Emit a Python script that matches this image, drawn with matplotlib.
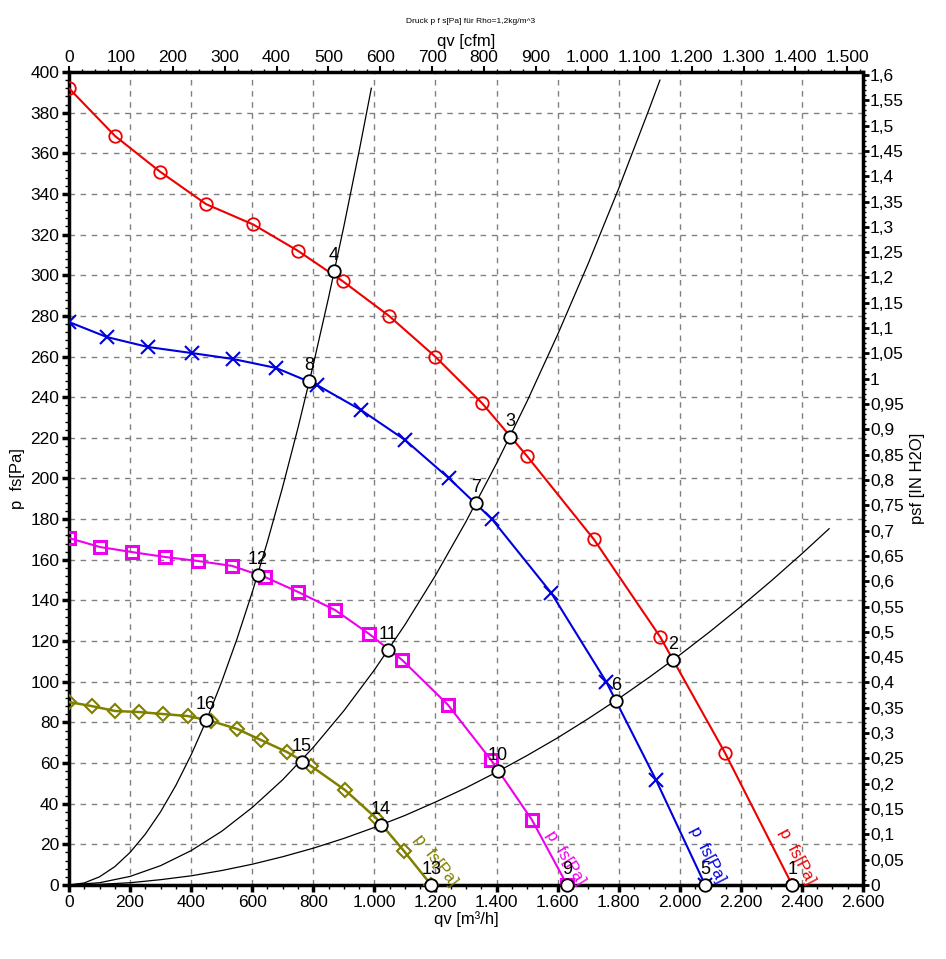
import numpy as np
import matplotlib.pyplot as plt
from matplotlib.ticker import MultipleLocator, FuncFormatter

plt.rcParams['font.family'] = ['Liberation Sans', 'DejaVu Sans']

# fan curves p_fs [Pa] over qv [m3/h], marker points
red_qv = [0, 151, 298, 449, 603, 750, 897, 1048, 1199, 1353, 1500, 1719, 1936, 2148, 2368]
red_p = [392, 368.5, 351, 335, 325, 312, 297, 280, 260, 237, 211, 170, 122, 65, 0]

blue_qv = [0, 124, 259, 403, 537, 678, 812, 956, 1100, 1245, 1385, 1579, 1759, 1922, 2083]
blue_p = [277, 269.6, 264.7, 261.7, 258.8, 254.4, 246, 233.7, 219, 200, 180, 143.7, 100, 51.7, 0]

mag_qv = [0, 101, 206, 314, 422, 534, 642, 750, 871, 983, 1091, 1241, 1382, 1516, 1631]
mag_p = [170.7, 166.3, 163.8, 161.4, 159.4, 157, 151.5, 144.2, 135.3, 123.5, 110.7, 88.6, 61.5, 32, 0]

oli_qv = [0, 75, 151, 229, 308, 390, 465, 550, 629, 714, 793, 904, 1005, 1097, 1186]
oli_p = [90, 88, 85.6, 85.1, 84.1, 83.1, 80.7, 76.8, 71.3, 65.4, 58.5, 46.7, 33, 16.7, 0]

# system curves (black)
sysA_qv = [0, 50, 100, 150, 200, 250, 300, 350, 400, 450, 500, 550, 600, 650, 700,
           750, 800, 850, 900, 950, 990]
sysA_p = [0, 1, 4, 9, 16, 25, 36, 49, 64, 81, 100, 121, 144, 169, 196,
          225, 256, 289, 324, 361, 392]
sysB_qv = [0, 100, 200, 300, 400, 500, 600, 700, 800, 900, 1000, 1100, 1200, 1300,
           1400, 1500, 1600, 1700, 1800, 1900, 1935]
sysB_p = [0, 1.1, 4.2, 9.5, 16.9, 26.4, 38.1, 51.8, 67.7, 85.7, 105.8, 128, 152.3, 178.8,
          207.4, 238, 270.8, 305.7, 342.7, 381.9, 396]
sysC_qv = [0, 100, 200, 300, 400, 500, 600, 700, 800, 900, 1000, 1100, 1200, 1300,
           1400, 1500, 1600, 1700, 1800, 1900, 2000, 2100, 2200, 2300, 2400, 2489]
sysC_p = [0, 0.3, 1.1, 2.6, 4.5, 7.1, 10.2, 13.9, 18.1, 22.9, 28.3, 34.2, 40.8, 47.8,
          55.5, 63.7, 72.4, 81.8, 91.7, 102.2, 113.2, 124.8, 137, 149.7, 163, 175.3]

# operating points
op_num = ['1', '2', '3', '4', '5', '6', '7', '8', '9', '10', '11', '12', '13', '14', '15', '16']
op_qv = [2368, 1978, 1444, 868, 2083, 1791, 1333, 786, 1631, 1405, 1045, 619, 1186, 1022, 763, 449]
op_p = [0, 110.7, 220.4, 302, 0, 90.5, 188, 248, 0, 56, 115.6, 152.5, 0, 29.5, 60.5, 81]

fig = plt.figure(figsize=(9.46, 9.59), dpi=100)
ax = fig.add_axes([0.0729, 0.0772, 0.8394, 0.8477])

ax.plot(sysA_qv, sysA_p, color='black', lw=0.9, zorder=2)
ax.plot(sysB_qv, sysB_p, color='black', lw=0.9, zorder=2)
ax.plot(sysC_qv, sysC_p, color='black', lw=0.9, zorder=2)

ax.plot(red_qv, red_p, color='#ee0000', lw=1.5, marker='o', ms=9, mfc='none', mew=1.3, zorder=3)
ax.plot(blue_qv, blue_p, color='#0000dd', lw=1.5, marker='x', ms=10, mew=1.5, zorder=3)
ax.plot(mag_qv, mag_p, color='#ee00ee', lw=1.5, marker='s', ms=9, mfc='none', mew=2.2, zorder=3)
ax.plot(oli_qv, oli_p, color='#808000', lw=1.8, marker='D', ms=7, mfc='none', mew=1.5, zorder=3)

ax.plot(op_qv, op_p, 'o', color='black', ms=9, mfc='white', mew=1.3, zorder=5, clip_on=False)
for n, q, p in zip(op_num, op_qv, op_p):
    ax.annotate(n, (q, p), xytext=(0, 5), textcoords='offset points',
                ha='center', va='bottom', fontsize=13, zorder=6)

# curve labels near the axis
lab = [(2410, -1, '#ee0000', -62), (2115, 0, '#0000dd', -63),
       (1657, -1.5, '#ee00ee', -58), (1241, -2, '#808000', -52)]
for q, p, c, r in lab:
    ax.text(q, p, 'p  fs[Pa]', color=c, fontsize=12, rotation=r,
            rotation_mode='anchor', ha='right', va='bottom', zorder=4)

ax.set_xlim(0, 2600)
ax.set_ylim(0, 400)
ax.xaxis.set_major_locator(MultipleLocator(200))
ax.xaxis.set_minor_locator(MultipleLocator(50))
ax.yaxis.set_major_locator(MultipleLocator(20))
ax.yaxis.set_minor_locator(MultipleLocator(4))
ax.xaxis.set_major_formatter(FuncFormatter(lambda v, p: f'{int(round(v)):,}'.replace(',', '.')))
ax.grid(True, which='major', color='#808080', ls=(0, (4, 4)), lw=1)
for s in ax.spines.values():
    s.set_linewidth(2.5)
ax.tick_params(which='major', length=5, width=2.5, labelsize=12.5, pad=2)
ax.tick_params(which='minor', length=3, width=1)
ax.set_xlabel('qv [m³/h]', fontsize=12, labelpad=1)
ax.set_ylabel('p  fs[Pa]', fontsize=12, labelpad=4)

top = ax.secondary_xaxis('top', functions=(lambda x: x / 1.699, lambda x: x * 1.699))
top.xaxis.set_major_locator(MultipleLocator(100))
top.xaxis.set_minor_locator(MultipleLocator(25))
top.xaxis.set_major_formatter(FuncFormatter(lambda v, p: f'{int(round(v)):,}'.replace(',', '.')))
top.tick_params(which='major', length=4, width=1.5, labelsize=12.5, pad=1)
top.tick_params(which='minor', length=2, width=1)
top.set_xlabel('qv [cfm]', fontsize=12, labelpad=3)

right = ax.secondary_yaxis('right', functions=(lambda y: y / 249.09, lambda y: y * 249.09))
right.yaxis.set_major_locator(MultipleLocator(0.05))
right.yaxis.set_minor_locator(MultipleLocator(0.01))
right.yaxis.set_major_formatter(FuncFormatter(lambda v, p: f'{v:.2f}'.rstrip('0').rstrip('.').replace('.', ',')))
right.tick_params(which='major', length=4, width=2, labelsize=12.5, pad=1)
right.tick_params(which='minor', length=2, width=1)
right.set_ylabel('psf [IN H2O]', fontsize=12, labelpad=4)

fig.text(0.497, 0.978, 'Druck p f s[Pa] für Rho=1,2kg/m^3', fontsize=6, ha='center', va='center')

fig.savefig('out.png', dpi=100, facecolor='white')
